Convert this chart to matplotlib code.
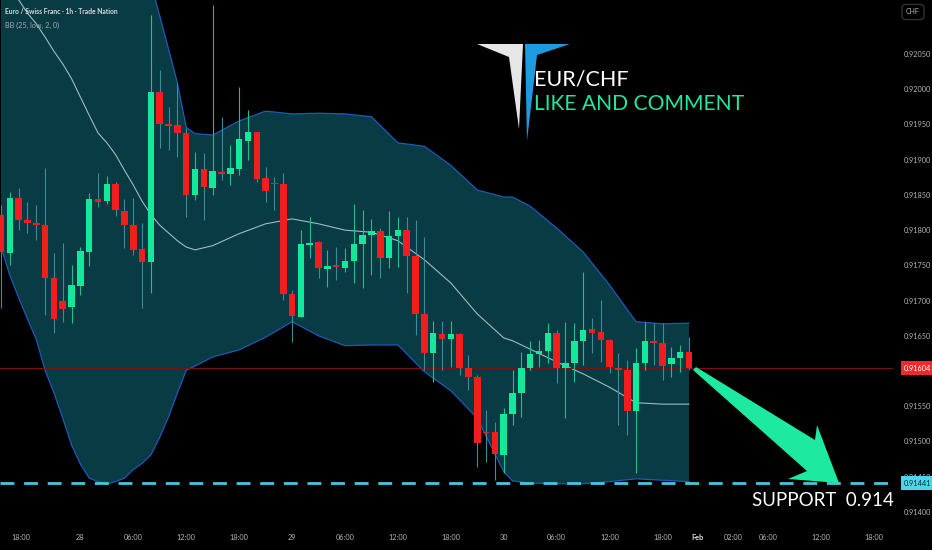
import matplotlib
matplotlib.use('Agg')
from matplotlib import pyplot as plt
from matplotlib.patches import Polygon
import matplotlib.transforms as mtransforms
import numpy as np

plt.rcParams['font.family'] = ['Lato', 'DejaVu Sans']

# EUR/CHF 1h candles (O, H, L, C)
opens = [0.91822, 0.91768, 0.91846, 0.91814, 0.91810, 0.91807, 0.91732, 0.91699, 0.91691, 0.91721,
         0.91769, 0.91844, 0.91841, 0.91866, 0.91827, 0.91807, 0.91773, 0.91755, 0.91996, 0.91951,
         0.91949, 0.91938, 0.91850, 0.91887, 0.91860, 0.91883, 0.91880, 0.91887, 0.91927, 0.91939,
         0.91874, 0.91867, 0.91866, 0.91709, 0.91677, 0.91779, 0.91783, 0.91745, 0.91751, 0.91746,
         0.91756, 0.91780, 0.91793, 0.91799, 0.91760, 0.91792, 0.91800, 0.91763, 0.91681, 0.91626,
         0.91653, 0.91645, 0.91653, 0.91604, 0.91592, 0.91513, 0.91513, 0.91481, 0.91539, 0.91569,
         0.91604, 0.91624, 0.91628, 0.91654, 0.91604, 0.91611, 0.91643, 0.91660, 0.91655, 0.91644,
         0.91604, 0.91601, 0.91543, 0.91611, 0.91643, 0.91640, 0.91610, 0.91619, 0.91627]
highs = [0.91836, 0.91854, 0.91860, 0.91840, 0.91836, 0.91888, 0.91768, 0.91782, 0.91751, 0.91776,
         0.91853, 0.91881, 0.91877, 0.91868, 0.91844, 0.91846, 0.91810, 0.92105, 0.92027, 0.91975,
         0.92009, 0.91945, 0.91911, 0.91910, 0.92120, 0.91961, 0.91921, 0.92003, 0.91971, 0.91940,
         0.91890, 0.91875, 0.91881, 0.91715, 0.91800, 0.91819, 0.91784, 0.91772, 0.91776, 0.91775,
         0.91837, 0.91829, 0.91816, 0.91803, 0.91827, 0.91819, 0.91819, 0.91814, 0.91790, 0.91671,
         0.91671, 0.91671, 0.91654, 0.91623, 0.91594, 0.91545, 0.91528, 0.91548, 0.91601, 0.91627,
         0.91643, 0.91644, 0.91668, 0.91658, 0.91670, 0.91668, 0.91741, 0.91675, 0.91701, 0.91645,
         0.91626, 0.91616, 0.91633, 0.91670, 0.91668, 0.91668, 0.91634, 0.91637, 0.91648]
lows = [0.91690, 0.91751, 0.91800, 0.91796, 0.91786, 0.91680, 0.91654, 0.91670, 0.91668, 0.91708,
        0.91749, 0.91833, 0.91837, 0.91820, 0.91775, 0.91765, 0.91690, 0.91711, 0.91917, 0.91914,
        0.91904, 0.91819, 0.91843, 0.91814, 0.91850, 0.91871, 0.91864, 0.91878, 0.91900, 0.91868,
        0.91840, 0.91829, 0.91701, 0.91641, 0.91676, 0.91760, 0.91732, 0.91719, 0.91729, 0.91741,
        0.91725, 0.91718, 0.91736, 0.91732, 0.91746, 0.91748, 0.91711, 0.91651, 0.91601, 0.91584,
        0.91601, 0.91606, 0.91594, 0.91573, 0.91464, 0.91471, 0.91445, 0.91455, 0.91523, 0.91535,
        0.91601, 0.91606, 0.91611, 0.91583, 0.91533, 0.91584, 0.91609, 0.91626, 0.91613, 0.91597,
        0.91523, 0.91509, 0.91455, 0.91601, 0.91609, 0.91587, 0.91592, 0.91599, 0.91601]
closes = [0.91769, 0.91846, 0.91814, 0.91810, 0.91807, 0.91732, 0.91674, 0.91688, 0.91722, 0.91770,
          0.91844, 0.91840, 0.91866, 0.91829, 0.91807, 0.91772, 0.91755, 0.91996, 0.91951, 0.91948,
          0.91938, 0.91850, 0.91887, 0.91861, 0.91884, 0.91880, 0.91888, 0.91929, 0.91939, 0.91873,
          0.91856, 0.91866, 0.91709, 0.91678, 0.91780, 0.91782, 0.91746, 0.91749, 0.91748, 0.91756,
          0.91780, 0.91793, 0.91799, 0.91760, 0.91792, 0.91800, 0.91763, 0.91681, 0.91626, 0.91654,
          0.91645, 0.91653, 0.91604, 0.91592, 0.91498, 0.91512, 0.91482, 0.91539, 0.91569, 0.91604,
          0.91624, 0.91628, 0.91654, 0.91604, 0.91611, 0.91643, 0.91658, 0.91654, 0.91644, 0.91606,
          0.91601, 0.91543, 0.91611, 0.91643, 0.91640, 0.91607, 0.91619, 0.91627, 0.91604]

# Bollinger bands BB(25, low, 2) sampled at some candles
bb_idx = [0, 1, 2, 3, 4, 5, 6, 7, 8, 9, 10, 11, 12, 13, 14, 15, 16, 17, 18, 19,
          20, 21, 22, 24, 27, 30, 33, 36, 39, 42, 45, 48, 51, 54, 57, 58, 60, 63, 66, 69,
          72, 75, 78]
bb_upper = [0.92450, 0.92449, 0.92445, 0.92440, 0.92430, 0.92420, 0.92410, 0.92395, 0.92380, 0.92360,
            0.92340, 0.92315, 0.92290, 0.92260, 0.92230, 0.92200, 0.92175, 0.92151, 0.92104, 0.92057,
            0.92009, 0.91946, 0.91937, 0.91935, 0.91955, 0.91969, 0.91965, 0.91966, 0.91965, 0.91961,
            0.91924, 0.91919, 0.91892, 0.91857, 0.91847, 0.91847, 0.91834, 0.91803, 0.91769, 0.91722,
            0.91670, 0.91667, 0.91668]
bb_mid = [0.92165, 0.92145, 0.92127, 0.92108, 0.92093, 0.92074, 0.92054, 0.92036, 0.92015, 0.91989,
          0.91963, 0.91938, 0.91924, 0.91907, 0.91885, 0.91864, 0.91841, 0.91822, 0.91807, 0.91796,
          0.91785, 0.91776, 0.91772, 0.91778, 0.91795, 0.91809, 0.91816, 0.91809, 0.91800, 0.91797,
          0.91785, 0.91758, 0.91725, 0.91681, 0.91647, 0.91643, 0.91631, 0.91613, 0.91596, 0.91577,
          0.91555, 0.91553, 0.91553]
bb_lower = [0.91776, 0.91736, 0.91704, 0.91674, 0.91645, 0.91601, 0.91569, 0.91533, 0.91495, 0.91468,
            0.91448, 0.91443, 0.91440, 0.91443, 0.91448, 0.91460, 0.91469, 0.91481, 0.91506, 0.91535,
            0.91569, 0.91601, 0.91607, 0.91620, 0.91630, 0.91648, 0.91670, 0.91650, 0.91636, 0.91637,
            0.91637, 0.91599, 0.91572, 0.91533, 0.91457, 0.91444, 0.91441, 0.91440, 0.91440, 0.91443,
            0.91447, 0.91445, 0.91443]

price_ticks = [0.92050, 0.92000, 0.91950, 0.91900, 0.91850, 0.91800, 0.91750, 0.91700,
               0.91650, 0.91550, 0.91500, 0.91450, 0.91400]
time_pos = [2.2, 9, 15, 21, 27, 33, 39, 45, 51, 57, 63, 69, 75, 79, 83, 87, 93, 99]
time_labels = ['18:00', '28', '06:00', '12:00', '18:00', '29', '06:00', '12:00', '18:00',
               '30', '06:00', '12:00', '18:00', 'Feb', '02:00', '06:00', '12:00', '18:00']
last_price = 0.91604
support = 0.91441

W, H = 932, 550
GREEN = '#14e89a'
RED = '#f21d1d'
MINT = '#1de9a0'


def px(x, y):
    return x / W, 1 - y / H


fig = plt.figure(figsize=(W / 100, H / 100), dpi=100, facecolor='black')
ax = fig.add_axes([0, 28 / H, 893 / W, 522 / H], facecolor='black')

idx = np.arange(len(opens))
o = np.array(opens)
c = np.array(closes)
up = c >= o

# bands
ax.fill_between(bb_idx, bb_upper, bb_lower, color='#083b44', lw=0, zorder=1)
ax.plot(bb_idx, bb_upper, color='#2158b8', lw=0.9, zorder=2)
ax.plot(bb_idx, bb_lower, color='#2158b8', lw=0.9, zorder=2)
ax.plot(bb_idx, bb_mid, color='#9fbcbc', lw=0.8, zorder=2)

# candles
wick_cols = np.where(up, '#1fbf8c', '#3a8e9c')
ax.vlines(idx, lows, highs, colors=wick_cols, lw=0.8, zorder=3)
body_lo = np.minimum(o, c)
body_h = np.maximum(np.abs(c - o), 0.000012)
ax.bar(idx, body_h, bottom=body_lo, width=0.74, color=np.where(up, GREEN, RED), lw=0, zorder=4)

# price lines
ax.axhline(last_price, color='#801010', lw=0.7, zorder=2)
sup = ax.axhline(support, color='#47c6dc', lw=2, zorder=5)
sup.set_dashes([5, 3.5])

ax.set_xlim(-0.113, 101.13)
ax.set_ylim(0.913857, 0.921267)
for s in ax.spines.values():
    s.set_visible(False)
ax.yaxis.tick_right()
ax.set_yticks(price_ticks)
ax.set_yticklabels(['%.5f' % p for p in price_ticks])
ax.tick_params(axis='y', length=0, pad=8, labelsize=5.3, labelcolor='#b4b4b4')
ax.set_xticks(time_pos)
ax.set_xticklabels(time_labels)
ax.tick_params(axis='x', length=0, pad=9, labelsize=5.3, labelcolor='#b4b4b4')
for t in ax.get_xticklabels():
    if t.get_text() == 'Feb':
        t.set_fontweight('bold')
        t.set_color('#e0e0e0')

# price labels on scale
trans = mtransforms.blended_transform_factory(ax.transAxes, ax.transData)
ax.text(1.0125, last_price, '%.5f' % last_price, transform=trans, fontsize=5.3, color='white',
        ha='left', va='center', clip_on=False, zorder=10,
        bbox=dict(boxstyle='square,pad=0.45', fc='#f02a2a', ec='none'))
ax.text(1.0125, support, '%.5f' % support, transform=trans, fontsize=5.3, color='#06303a',
        ha='left', va='center', clip_on=False, zorder=10,
        bbox=dict(boxstyle='square,pad=0.45', fc='#4dd6e8', ec='none'))

# header text
fig.text(*px(5, 12), 'Euro / Swiss Franc · 1h · Trade Nation', fontsize=4.9, fontweight='bold',
         color='#dcdcdc', va='center', ha='left')
fig.text(*px(5, 25), 'BB (25, low, 2, 0)', fontsize=5.2, color='#a8a8a8', va='center', ha='left')
fig.text(*px(913, 12), 'CHF', fontsize=5, color='#b4b4b4', va='center', ha='center',
         bbox=dict(boxstyle='round,pad=0.6', fc='black', ec='#3c3c3c', lw=0.8))

# logo
white = [px(477, 44), px(523, 44), px(519, 129), px(509, 57)]
blue = [px(525, 44), px(570, 44), px(537, 55), px(527, 141)]
fig.patches.append(Polygon(white, closed=True, fc='#e6e6e6', ec='none', transform=fig.transFigure, zorder=20))
fig.patches.append(Polygon(blue, closed=True, fc='#1e9be0', ec='none', transform=fig.transFigure, zorder=20))
fig.text(*px(534, 79), 'EUR/CHF', fontsize=15.5, color='white', va='center', ha='left', zorder=21)
fig.text(*px(534, 104), 'LIKE AND COMMENT', fontsize=15.2, color=MINT, va='center', ha='left', zorder=21)

# arrow to support
arrow = [px(696, 367), px(815, 440), px(817, 425), px(839, 483), px(788, 479), px(807, 471), px(693, 370)]
fig.patches.append(Polygon(arrow, closed=True, fc=MINT, ec='none', transform=fig.transFigure, zorder=22))
fig.text(*px(752, 500), 'SUPPORT  0.914', fontsize=13.5, color='white', va='center', ha='left', zorder=21)

fig.savefig('out.png', dpi=100, facecolor='black')
plt.close(fig)
